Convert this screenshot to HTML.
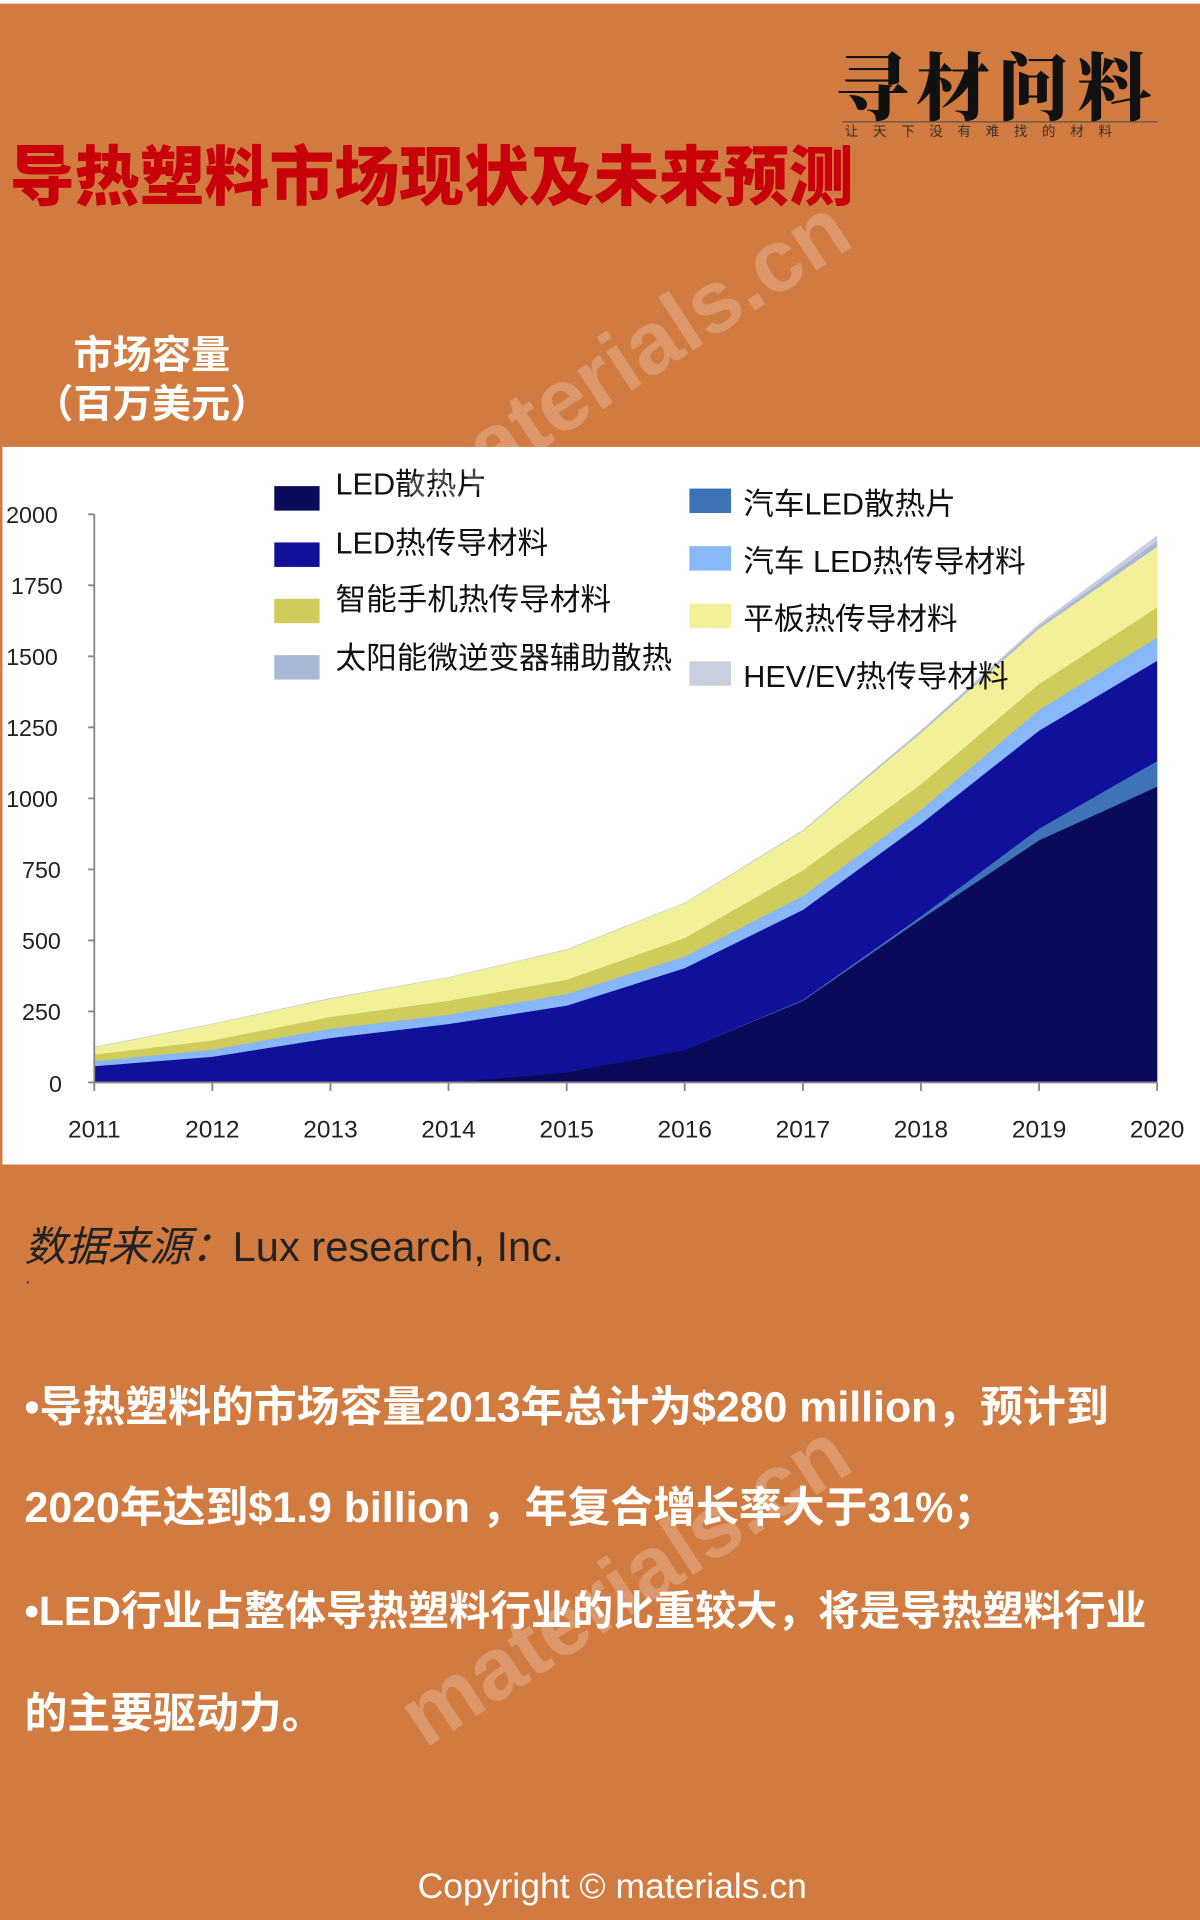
<!DOCTYPE html>
<html><head><meta charset="utf-8"><style>
html,body{margin:0;padding:0;width:1200px;height:1920px;overflow:hidden;background:#D27B40;}
#w{position:absolute;left:0;top:0;width:980px;height:1568px;transform:scale(1.22449);transform-origin:0 0;background:#D27B40;font-family:"Liberation Sans","Noto Sans CJK SC",sans-serif;border-top:3px solid #fff;box-sizing:border-box;}
.a{position:absolute;white-space:nowrap;}
.wm{position:absolute;color:rgba(255,255,255,0.22);font-weight:bold;font-size:72px;transform:rotate(-33deg);font-family:"Liberation Sans",sans-serif;}
.b{color:#fff;font-weight:bold;font-size:35px;left:20px;}
</style></head><body><div id="w">
<div class="a" style="left:8px;top:100px;font-size:53px;font-weight:900;color:#C8000A;">导热塑料市场现状及未来预测</div>
<div class="a" style="left:682px;top:22px;font-size:60px;font-family:'Noto Serif CJK SC',serif;font-weight:900;color:#111;letter-spacing:6px;">寻材问料</div>
<div class="a" style="left:688px;top:96px;width:258px;border-top:1px solid #555;"></div>
<div class="a" style="left:690px;top:96px;font-size:11px;color:#333;letter-spacing:12px;">让天下没有难找的材料</div>
<div class="a" style="left:60px;top:262px;font-size:32px;font-weight:bold;color:#fff;">市场容量</div>
<div class="a" style="left:28px;top:302px;font-size:32px;font-weight:bold;color:#fff;">（百万美元）</div>
<div class="a" style="left:2px;top:362px;width:978px;height:586px;background:#fff;"></div>
<svg class="a" style="left:0;top:0" width="980" height="960" viewBox="0 0 980 960">
<g font-family="Liberation Sans" font-size="19" fill="#222">
<text x="5" y="424">2000</text><text x="9" y="482">1750</text><text x="5" y="540">1500</text><text x="5" y="598">1250</text><text x="5" y="656">1000</text><text x="18" y="714">750</text><text x="18" y="772">500</text><text x="18" y="830">250</text><text x="40" y="889">0</text>
</g>
<polygon fill="#C8D0E0" points="77,881 77,852 173.4,833 269.9,812 366.3,795 462.8,772.2 559.2,734.1 655.7,674.8 752.1,593.3 848.6,506.3 945,434.2 945,881"/>
<polygon fill="#AAB8D8" points="77,881 77,852.2 173.4,833.2 269.9,812.3 366.3,795.2 462.8,772.4 559.2,734.4 655.7,675.2 752.1,594.5 848.6,508.4 945,439 945,881"/>
<polygon fill="#F3F09A" points="77,881 77,852.5 173.4,833.4 269.9,812.6 366.3,795.4 462.8,772.7 559.2,734.6 655.7,675.7 752.1,595.6 848.6,510.3 945,443.7 945,881"/>
<polygon fill="#CFCC5C" points="77,881 77,858.3 173.4,846.7 269.9,827.6 366.3,814.4 462.8,797.2 559.2,763.1 655.7,707.9 752.1,637.6 848.6,555.7 945,493.1 945,881"/>
<polygon fill="#88B8F8" points="77,881 77,863.8 173.4,854.3 269.9,837.2 366.3,825.8 462.8,808.8 559.2,778.2 655.7,728.8 752.1,658.5 848.6,576.8 945,517.7 945,881"/>
<polygon fill="#10109A" points="77,881 77,867.8 173.4,860.1 269.9,844.8 366.3,833.4 462.8,818.4 559.2,787.7 655.7,740.2 752.1,669.9 848.6,593.8 945,536.7 945,881"/>
<polygon fill="#3F73B8" points="77,881 77,881 173.4,880.3 269.9,881 366.3,881 462.8,872.6 559.2,854.3 655.7,813.7 752.1,745.5 848.6,673.8 945,618.6 945,881"/>
<polygon fill="#0A0A5A" points="77,881 77,881 173.4,880.3 269.9,881 366.3,881 462.8,872.6 559.2,854.3 655.7,814.4 752.1,747.8 848.6,683.3 945,639.5 945,881"/>
<g stroke="#888" stroke-width="1.5" fill="none">
<line x1="77" y1="417" x2="77" y2="888"/><line x1="77" y1="881" x2="945" y2="881"/>
<path d="M72 417h5M72 475h5M72 533h5M72 591h5M72 649h5M72 707h5M72 765h5M72 823h5M72 881h5"/>
<path d="M173.4 881v7M269.9 881v7M366.3 881v7M462.8 881v7M559.2 881v7M655.7 881v7M752.1 881v7M848.6 881v7M945 881v7"/>
</g>
<g font-family="Liberation Sans" font-size="20" fill="#222" text-anchor="middle">
<text x="77" y="926">2011</text><text x="173.4" y="926">2012</text><text x="269.9" y="926">2013</text><text x="366.3" y="926">2014</text><text x="462.8" y="926">2015</text><text x="559.2" y="926">2016</text><text x="655.7" y="926">2017</text><text x="752.1" y="926">2018</text><text x="848.6" y="926">2019</text><text x="945" y="926">2020</text>
</g>
<g font-family="Liberation Sans,Noto Sans CJK SC,sans-serif" font-size="25" fill="#111">
<rect x="224" y="394" width="37" height="20" fill="#0A0A5A"/><text x="274" y="401">LED散热片</text>
<rect x="224" y="440" width="37" height="20" fill="#10109A"/><text x="274" y="449">LED热传导材料</text>
<rect x="224" y="486" width="37" height="20" fill="#CFCC5C"/><text x="274" y="495">智能手机热传导材料</text>
<rect x="224" y="532" width="37" height="20" fill="#AAB8D8"/><text x="274" y="543">太阳能微逆变器辅助散热</text>
<rect x="548" y="520" width="14" height="40" fill="#fff"/>
<rect x="563" y="396" width="34" height="20" fill="#3F73B8"/><text x="607" y="417">汽车LED散热片</text>
<rect x="563" y="443" width="34" height="20" fill="#88B8F8"/><text x="607" y="464">汽车 LED热传导材料</text>
<rect x="563" y="490" width="34" height="20" fill="#F3F09A"/><text x="607" y="511">平板热传导材料</text>
<rect x="563" y="537" width="34" height="20" fill="#C8D0E0"/><text x="607" y="558">HEV/EV热传导材料</text>
</g>
</svg>
<div class="a" style="left:20px;top:988px;font-size:34px;color:#222;"><i>数据来源：</i>Lux research, Inc.</div>
<div class="a" style="left:20px;top:1036px;font-size:16px;color:#222;">·</div>
<div class="a b" style="top:1118px;">•导热塑料的市场容量2013年总计为$280 million，预计到</div>
<div class="a b" style="top:1200px;">2020年达到$1.9 billion ，年复合增长率大于31%；</div>
<div class="a b" style="top:1285px;font-size:33.5px;">•LED行业占整体导热塑料行业的比重较大，将是导热塑料行业</div>
<div class="a b" style="top:1368px;">的主要驱动力。</div>
<div class="a" style="left:0;width:1000px;text-align:center;top:1522px;font-size:29px;color:#fff;">Copyright © materials.cn</div>
<div class="wm" style="left:300px;top:250px;">materials.cn</div>
<div class="wm" style="left:300px;top:1250px;">materials.cn</div>
</div></body></html>
